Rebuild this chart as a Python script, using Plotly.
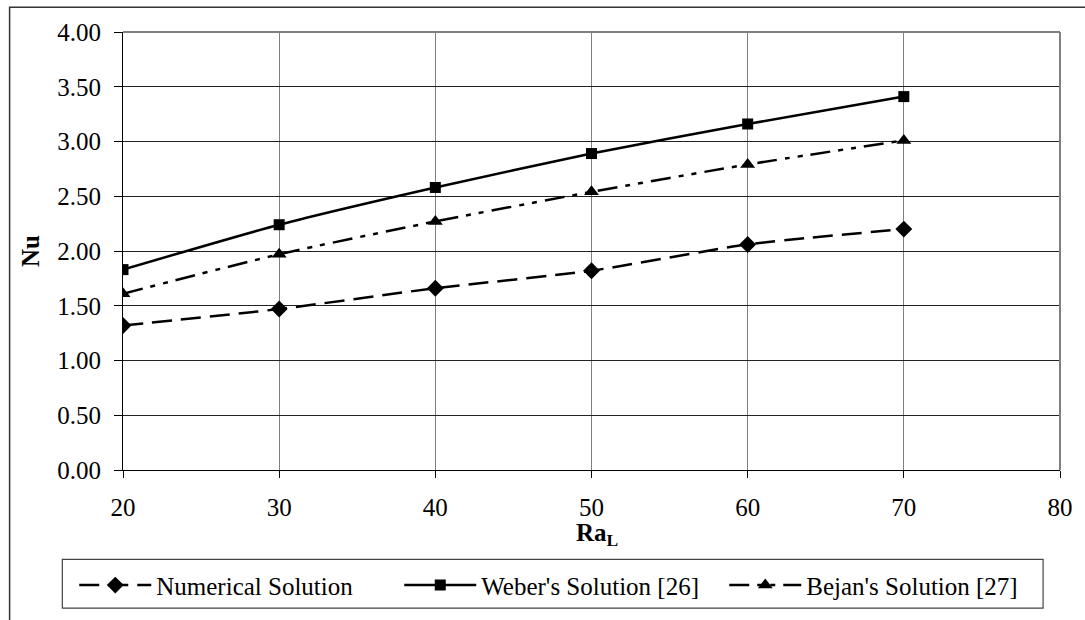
import plotly.graph_objects as go

ra = [20, 30, 40, 50, 60, 70]
numerical = [1.32, 1.47, 1.66, 1.82, 2.06, 2.20]
weber = [1.83, 2.24, 2.58, 2.89, 3.16, 3.41]
bejan = [1.61, 1.97, 2.27, 2.54, 2.79, 3.01]

x_ticks = [20, 30, 40, 50, 60, 70, 80]
y_ticks = [0, 0.5, 1.0, 1.5, 2.0, 2.5, 3.0, 3.5, 4.0]

FONT = "Liberation Serif"
TF = dict(family=FONT, size=25, color="black")

L, R, T, B = 123, 20, 32, 147
PW, PH = 1085 - L - R, 620 - T - B


def px(xp):
    return (xp - L) / PW


def py(yp):
    return (620 - B - yp) / PH


fig = go.Figure()
fig.add_trace(go.Scatter(
    x=ra, y=numerical, name="Numerical Solution", mode="lines+markers",
    line=dict(color="black", width=2.5, dash="20px,9px", shape="spline", smoothing=0.6),
    marker=dict(symbol="diamond", size=13, color="black")))
fig.add_trace(go.Scatter(
    x=ra, y=weber, name="Weber's Solution [26]", mode="lines+markers",
    line=dict(color="black", width=2.5, shape="spline", smoothing=0.6),
    marker=dict(symbol="square", size=11, color="black")))
fig.add_trace(go.Scatter(
    x=ra, y=bejan, name="Bejan's Solution [27]", mode="lines+markers",
    line=dict(color="black", width=2.5, dash="20px,8px,5px,8px,5px,8px", shape="spline", smoothing=0.6),
    marker=dict(symbol="triangle-up", size=13, color="black")))

fig.update_layout(
    width=1085, height=620,
    margin=dict(l=L, r=R, t=T, b=B),
    paper_bgcolor="white", plot_bgcolor="white",
    font=TF,
    showlegend=True,
    legend=dict(
        orientation="h", x=px(74), y=py(566), xanchor="left", yanchor="top",
        borderwidth=0, bgcolor="rgba(0,0,0,0)", entrywidth=238,
        font=TF, itemwidth=72,
    ),
    xaxis=dict(
        range=[20, 80], tickvals=x_ticks, ticktext=[str(v) for v in x_ticks],
        tickfont=TF, ticklabelstandoff=8,
        showgrid=True, gridcolor="#808080", gridwidth=1,
        showline=True, linecolor="black", linewidth=1,
        ticks="outside", ticklen=7, tickcolor="black",
        mirror=False, zeroline=False,
    ),
    yaxis=dict(
        range=[0, 4], tickvals=y_ticks, tickformat=".2f",
        tickfont=TF, ticklabelstandoff=8,
        showgrid=True, gridcolor="#222222", gridwidth=1,
        showline=True, linecolor="black", linewidth=1,
        ticks="outside", ticklen=8, tickcolor="black",
        zeroline=False,
        title=dict(text="<b>Nu</b>", standoff=10, font=TF),
    ),
)

# x-axis title placed close under the tick labels
fig.add_annotation(text="<b>Ra<sub>L</sub></b>", xref="paper", yref="paper",
                   x=px(600), y=py(520), xanchor="center", yanchor="top",
                   showarrow=False, font=TF)

# plot-area border (top & right gray)
fig.add_shape(type="line", xref="paper", yref="paper", x0=0, x1=1, y0=1, y1=1,
              line=dict(color="#808080", width=2))
fig.add_shape(type="line", xref="paper", yref="paper", x0=1, x1=1, y0=0, y1=1,
              line=dict(color="#808080", width=2))
# legend box
fig.add_shape(type="rect", xref="paper", yref="paper",
              x0=px(62), x1=px(1048), y0=py(612), y1=py(563),
              line=dict(color="#444444", width=1.2), layer="below")
# outer chart frame (cut off at right and bottom)
fig.add_shape(type="rect", xref="paper", yref="paper",
              x0=px(9), x1=1.1, y0=-0.4, y1=py(7),
              line=dict(color="#333333", width=1.5), layer="below")

fig.write_html("out.html")
